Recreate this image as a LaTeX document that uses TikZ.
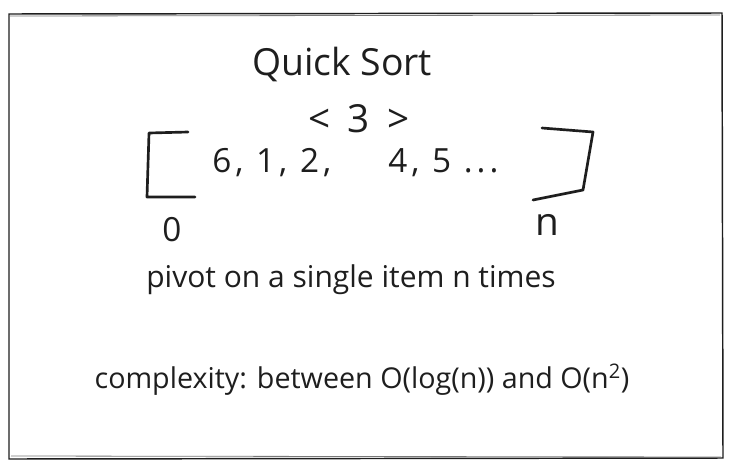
\documentclass[tikz,border=0pt]{standalone}
\usepackage{fontspec}
\setmainfont{Open Sans}
\usetikzlibrary{positioning}
\definecolor{ink}{HTML}{1e1e1e}

\begin{document}
\begin{tikzpicture}[
  x=0.75pt, y=-0.75pt,
  every node/.style={text=ink, inner sep=0pt},
  big/.style={font=\fontsize{28}{32}\selectfont},
  body/.style={font=\fontsize{22.5}{26}\selectfont},
  nums/.style={font=\fontsize{25}{28}\selectfont\addfontfeature{LetterSpace=12}},
  sketch/.style={draw=ink, line width=2pt, line cap=round, line join=round}
]
  \useasboundingbox (0,0) rectangle (731,468);
  \fill[white] (0,0) rectangle (731,468);

  % frame
  \draw[draw=ink, line width=1.1pt] (9,14) -- (722,13) -- (723,458) -- (9,459) -- cycle;
  \draw[draw=ink!60, line width=0.6pt] (10,16) -- (720,15);
  \draw[draw=ink!60, line width=0.6pt] (11,456) -- (721,457);

  % title
  \node[big] (title) at (342,64) {Quick Sort};

  % the array
  \node[nums, font=\fontsize{29}{32}\selectfont] (pivot) at (359,119)
    {<\hspace{0.45em}3\hspace{0.45em}>};
  \node[nums, anchor=west] (left) at (212,163) {6, 1, 2,};
  \node[nums, anchor=west] (right) at (388,163) {4, 5 ...};
  \node[nums] (lo) at (172,230) {0};
  \node[nums, font=\fontsize{29}{32}\selectfont] (hi) at (547,225) {n};

  % brackets
  \draw[sketch] (188,132) -- (149,133) -- (147,197) -- (195,197);
  \draw[sketch] (542,128) -- (593,132) -- (583,190) -- (533,200);

  % notes
  \node[body] (note) at (351,280) {pivot on a single item n times};
  \node[body, font=\fontsize{21.5}{24}\selectfont] (cplx) at (362,380) {complexity: between O(log(n)) and O(n\textsuperscript{2})};
\end{tikzpicture}
\end{document}
